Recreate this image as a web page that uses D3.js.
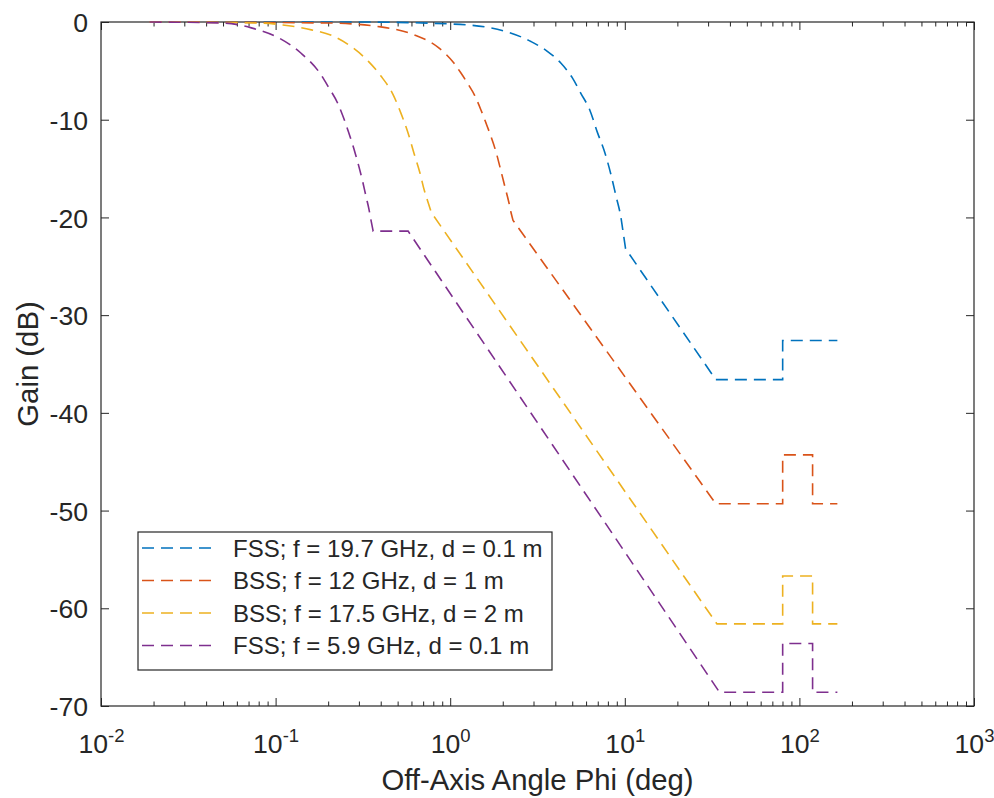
<!DOCTYPE html>
<html>
<head>
<meta charset="utf-8">
<script src="https://cdn.jsdelivr.net/npm/d3@7"></script>
<style>
  body { margin: 0; background: #fff; }
  text { font-family: Arial, "Liberation Sans", Helvetica, sans-serif; fill: #262626; }
</style>
</head>
<body>
<script>
// legend labels, one per series
var seriesNames = [
  "FSS; f = 19.7 GHz, d = 0.1 m",
  "BSS; f = 12 GHz, d = 1 m",
  "BSS; f = 17.5 GHz, d = 2 m",
  "FSS; f = 5.9 GHz, d = 0.1 m"
]
var seriesColors = ["#0072BD", "#D95319", "#EDB120", "#7E2F8E"]

// off-axis angle (deg) and gain (dB)
// main lobe (smooth part) ...
var fss197LobePhi  = [0.019, 0.3, 1.0, 1.71, 2.9, 3.6, 4.3, 5.0, 5.6, 6.3, 7.0, 7.6, 8.3, 8.9, 9.5, 9.8, 10.1]
var fss197LobeGain = [0, 0, -0.2, -0.6, -2.0, -3.0, -4.2, -5.7, -7.3, -9.0, -11.4, -13.1, -15.5, -17.8, -20.0, -21.6, -23.2]
// ... and the straight pieces after it
var fss197TailPhi  = [33.2, 80.2, 80.2, 165]
var fss197TailGain = [-36.6, -36.6, -32.6, -32.6]

var bss12LobePhi  = [0.019, 0.2, 0.40, 0.62, 0.853, 1.05, 1.15, 1.26, 1.38, 1.50, 1.60, 1.71, 1.83, 1.95, 2.06, 2.17, 2.23, 2.29]
var bss12LobeGain = [0, -0.1, -0.5, -1.3, -2.6, -4.2, -5.2, -6.3, -7.5, -9.0, -10.3, -11.7, -13.3, -15.2, -16.9, -18.5, -19.5, -20.3]
var bss12TailPhi  = [33.2, 80.2, 80.2, 119, 119, 165]
var bss12TailGain = [-49.3, -49.3, -44.3, -44.3, -49.3, -49.3]

var bss175LobePhi  = [0.019, 0.08, 0.11, 0.15, 0.217, 0.28, 0.339, 0.40, 0.47, 0.524, 0.57, 0.622, 0.67, 0.71, 0.745, 0.78]
var bss175LobeGain = [0, -0.1, -0.3, -0.7, -1.5, -2.7, -4.0, -5.5, -7.4, -9.4, -11.2, -13.5, -15.4, -17.2, -18.4, -19.5]
var bss175TailPhi  = [33.7, 80.2, 80.2, 119, 119, 165]
var bss175TailGain = [-61.6, -61.6, -56.7, -56.7, -61.6, -61.6]

var fss59LobePhi  = [0.019, 0.05, 0.0726, 0.1035, 0.140, 0.182, 0.2, 0.228, 0.245, 0.261, 0.28, 0.297, 0.315, 0.330, 0.342, 0.352, 0.362]
var fss59LobeGain = [0, -0.1, -0.6, -1.6, -3.2, -5.4, -6.6, -8.4, -9.8, -11.2, -12.9, -14.5, -16.3, -17.9, -19.1, -20.3, -21.4]
var fss59TailPhi  = [0.574, 34.9, 80.2, 80.2, 119, 119, 165]
var fss59TailGain = [-21.4, -68.6, -68.6, -63.6, -63.6, -68.6, -68.6]

var yTicks = [0, -10, -20, -30, -40, -50, -60, -70]
var xTickExp = [-2, -1, 0, 1, 2, 3]

var series = [
  [fss197LobePhi, fss197LobeGain, fss197TailPhi, fss197TailGain],
  [bss12LobePhi, bss12LobeGain, bss12TailPhi, bss12TailGain],
  [bss175LobePhi, bss175LobeGain, bss175TailPhi, bss175TailGain],
  [fss59LobePhi, fss59LobeGain, fss59TailPhi, fss59TailGain]
].map(function (s, i) {
  return {
    name: seriesNames[i],
    color: seriesColors[i],
    lobe: d3.zip(s[0], s[1]),
    tail: d3.zip(s[2], s[3])
  }
})

var width = 994, height = 798
// window.top is read-only, so the plot box gets its own names
var plotL = 101, plotR = 974, plotT = 22, plotB = 706

var x = d3.scaleLog().domain([0.01, 1000]).range([plotL, plotR])
var y = d3.scaleLinear().domain([-70, 0]).range([plotB, plotT])

var svg = d3.select("body").append("svg")
    .attr("width", width)
    .attr("height", height)

var majorX = xTickExp.map(function (e) { return Math.pow(10, e) })
var minorX = []
for (var e = -2; e < 3; e++) {
  for (var m = 2; m < 10; m++) minorX.push(m * Math.pow(10, e))
}

function styleAxis(g) {
  g.select(".domain").remove()
  g.selectAll("line").attr("stroke", "#262626").attr("stroke-width", 1)
}

// bottom axis
svg.append("g")
    .attr("transform", "translate(0," + plotB + ")")
    .call(d3.axisBottom(x).tickValues(minorX).tickSize(-4.5).tickFormat(""))
    .call(styleAxis)
var xAxis = svg.append("g")
    .attr("transform", "translate(0," + plotB + ")")
    .call(d3.axisBottom(x).tickValues(majorX).tickSize(-8).tickFormat(""))
    .call(styleAxis)

xAxis.selectAll(".tick").append("text")
    .attr("y", 47)
    .attr("text-anchor", "middle")
    .style("font-size", "26.6px")
    .each(function (d, i) {
      var t = d3.select(this)
      t.append("tspan").text("10")
      t.append("tspan")
          .attr("dy", -11)
          .style("font-size", "18.5px")
          .text(xTickExp[i])
    })

// top axis
svg.append("g")
    .attr("transform", "translate(0," + plotT + ")")
    .call(d3.axisTop(x).tickValues(minorX).tickSize(-4.5).tickFormat(""))
    .call(styleAxis)
svg.append("g")
    .attr("transform", "translate(0," + plotT + ")")
    .call(d3.axisTop(x).tickValues(majorX).tickSize(-8).tickFormat(""))
    .call(styleAxis)

// left and right axes (plain hyphen for the minus sign, like the original)
var yAxis = svg.append("g")
    .attr("transform", "translate(" + plotL + ",0)")
    .call(d3.axisLeft(y).tickValues(yTicks).tickSize(-8).tickPadding(13).tickFormat(function (d) { return String(d) }))
    .call(styleAxis)
yAxis.selectAll("text")
    .style("font-size", "26.6px")
    .attr("dy", "0.36em")
svg.append("g")
    .attr("transform", "translate(" + plotR + ",0)")
    .call(d3.axisRight(y).tickValues(yTicks).tickSize(-8).tickFormat(""))
    .call(styleAxis)

svg.append("rect")
    .attr("x", plotL)
    .attr("y", plotT)
    .attr("width", plotR - plotL)
    .attr("height", plotB - plotT)
    .attr("fill", "none")
    .attr("stroke", "#262626")
    .attr("stroke-width", 1.2)

// curves: smooth main lobe, then straight pieces, joined into one path
var smoothLine = d3.line()
    .curve(d3.curveMonotoneX)
    .x(function (d) { return x(d[0]) })
    .y(function (d) { return y(d[1]) })
var straightLine = d3.line()
    .x(function (d) { return x(d[0]) })
    .y(function (d) { return y(d[1]) })

function curvePath(d) {
  return smoothLine(d.lobe) + straightLine(d.tail).replace(/^M/, "L")
}

svg.append("g").selectAll("path")
    .data(series)
    .join("path")
    .attr("d", curvePath)
    .attr("fill", "none")
    .attr("stroke", function (d) { return d.color })
    .attr("stroke-width", 1.6)
    .attr("stroke-dasharray", "12,7")

// axis titles
svg.append("text")
    .attr("x", (plotL + plotR) / 2)
    .attr("y", 790)
    .attr("text-anchor", "middle")
    .style("font-size", "29.3px")
    .text("Off-Axis Angle Phi (deg)")

svg.append("text")
    .attr("transform", "translate(38," + (plotT + plotB) / 2 + ") rotate(-90)")
    .attr("text-anchor", "middle")
    .style("font-size", "29.3px")
    .text("Gain (dB)")

// legend
var legend = svg.append("g")
legend.append("rect")
    .attr("x", 138)
    .attr("y", 532)
    .attr("width", 414)
    .attr("height", 138)
    .attr("fill", "#fff")
    .attr("stroke", "#262626")
    .attr("stroke-width", 1.2)

var rows = legend.selectAll("g.row")
    .data(series)
    .join("g")
    .attr("class", "row")
    .attr("transform", function (d, i) { return "translate(0," + (548 + i * 32.5) + ")" })

rows.append("line")
    .attr("x1", 142)
    .attr("x2", 216)
    .attr("stroke", function (d) { return d.color })
    .attr("stroke-width", 1.6)
    .attr("stroke-dasharray", "12,7")

rows.append("text")
    .attr("x", 233)
    .attr("dy", "0.36em")
    .style("font-size", "24px")
    .text(function (d) { return d.name })
</script>
</body>
</html>
